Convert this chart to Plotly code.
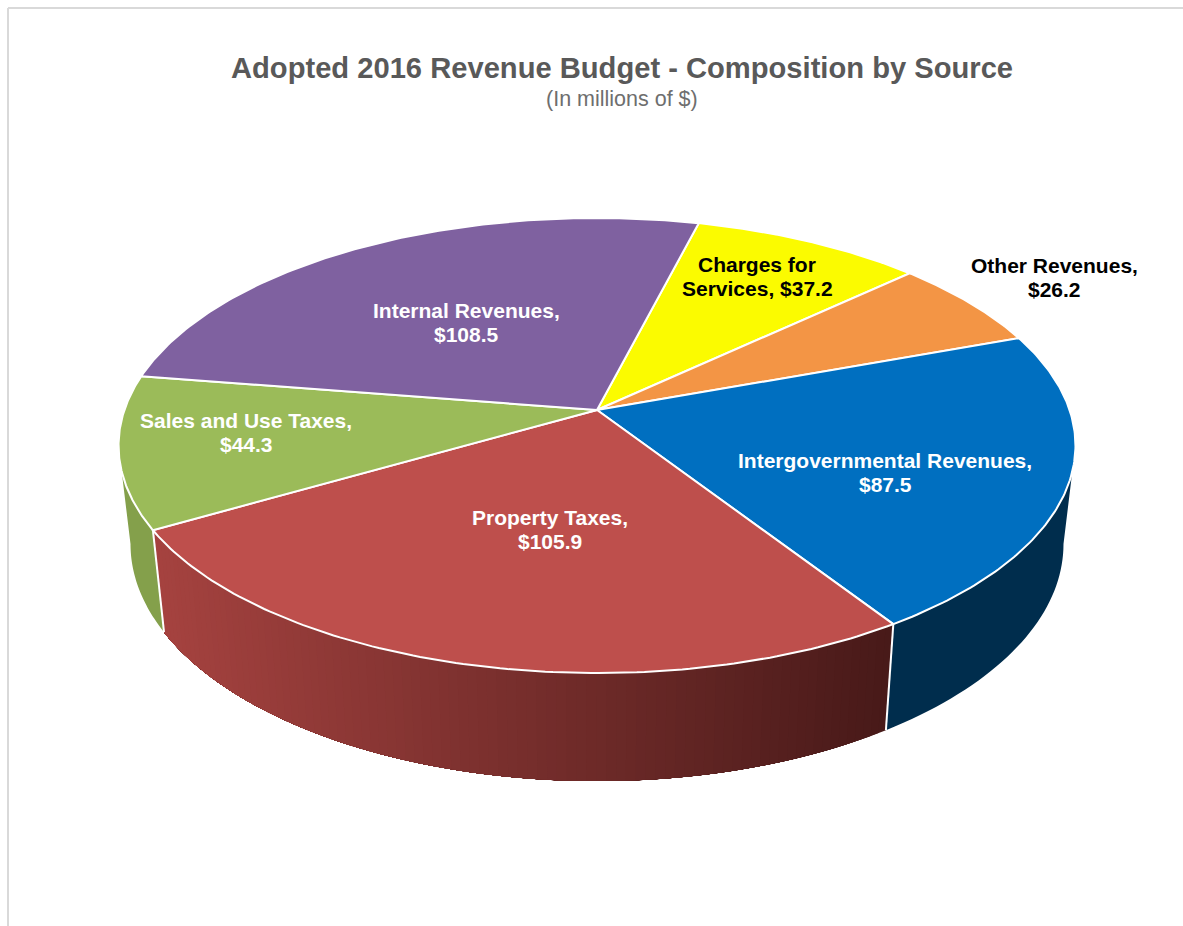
import numpy as np
import plotly.graph_objects as go

# values, clockwise from the yellow slice
sources = ["Charges for<br>Services", "Other Revenues", "Intergovernmental Revenues",
           "Property Taxes", "Sales and Use Taxes", "Internal Revenues"]
amounts = [37.2, 26.2, 87.5, 105.9, 44.3, 108.5]
label_x = [757, 1054, 885, 550, 246, 466]
label_y = [276, 277, 472, 529, 432, 322]
label_colors = ["black", "black", "white", "white", "white", "white"]
top_colors = ["#FBFB00", "#F39545", "#006FC0", "#BE4F4C", "#9BBB59", "#7F61A0"]
side_colors = ["#FBFB00", "#F39545", "#002D4D", None, "#84A04B", "#7F61A0"]
red_side_left = np.array([166, 67, 64])
red_side_right = np.array([72, 26, 25])

# pie geometry: a tilted disc seen in perspective
CX, CY = 597, 410
F, G, K = 472.6, 222, 0.156
START_ANGLE = 14.35
DEPTH, SCALE_X, SCALE_Y = 97, 0.975, 1.042
RIGHT_EDGE, LEFT_EDGE = 99, 261
LINE_GAP = 24


def top_point(theta):
    t = np.radians(theta)
    x, y = np.sin(t), -np.cos(t)
    den = 1 - K * y
    return CX + F * x / den, CY + G * y / den


def bottom_point(theta):
    x, y = top_point(theta)
    return CX + SCALE_X * (x - CX), CY + DEPTH + SCALE_Y * (y - CY)


def side_strip(a, b, color, name):
    thetas = np.linspace(a, b, 40)
    tx, ty = top_point(thetas)
    bx, by = bottom_point(thetas)
    return go.Scatter(x=np.r_[tx, bx[::-1]], y=np.r_[ty, by[::-1]], fill="toself",
                      fillcolor=color, mode="none",
                      name=name, hoverinfo="skip", showlegend=False)


spans = np.array(amounts) / sum(amounts) * 360
starts = START_ANGLE + np.r_[0, np.cumsum(spans)[:-1]]
ends = starts + spans

fig = go.Figure()

# sides of the disc
for i, name in enumerate(sources):
    a, b = max(starts[i], RIGHT_EDGE), min(ends[i], LEFT_EDGE)
    if a >= b:
        continue
    if side_colors[i] is not None:
        fig.add_trace(side_strip(a, b, side_colors[i], name))
    else:
        # the red side fades from left to right, strips overlap to hide the seams
        edges = np.linspace(a, b, 91)
        x_left, x_right = bottom_point(b)[0], bottom_point(a)[0]
        for e0, e1 in zip(edges[:-1], edges[1:]):
            pos = (bottom_point((e0 + e1) / 2)[0] - x_left) / (x_right - x_left)
            rgb = red_side_left + (red_side_right - red_side_left) * pos
            color = "rgb(%d,%d,%d)" % tuple(rgb)
            fig.add_trace(side_strip(e0, b, color, name))

# white seams on the side
for i in range(len(sources)):
    if RIGHT_EDGE < starts[i] < LEFT_EDGE:
        tx, ty = top_point(starts[i])
        bx, by = bottom_point(starts[i])
        fig.add_trace(go.Scatter(x=[tx, bx], y=[ty, by], mode="lines",
                                 line=dict(color="white", width=2),
                                 hoverinfo="skip", showlegend=False))

# top face
for i, name in enumerate(sources):
    thetas = np.linspace(starts[i], ends[i], 120)
    tx, ty = top_point(thetas)
    fig.add_trace(go.Scatter(x=np.r_[CX, tx, CX], y=np.r_[CY, ty, CY], fill="toself",
                             fillcolor=top_colors[i], mode="lines",
                             line=dict(color="white", width=2), name=name,
                             hoverinfo="skip", showlegend=False))

# slice labels, one annotation per line to keep the tight line spacing
for i, name in enumerate(sources):
    sep = ", " if "<br>" in name else ",<br>"
    lines = ("%s%s$%.1f" % (name, sep, amounts[i])).split("<br>")
    for n, line in enumerate(lines):
        fig.add_annotation(x=label_x[i], y=label_y[i] + (n - 0.5) * LINE_GAP, text="<b>%s</b>" % line,
                           showarrow=False,
                           font=dict(family="Liberation Sans", size=21, color=label_colors[i]))

fig.add_annotation(x=622, y=68, text="<b>Adopted 2016 Revenue Budget - Composition by Source</b>",
                   showarrow=False, font=dict(family="Liberation Sans", size=29.15, color="#595959"))
fig.add_annotation(x=622, y=99, text="(In millions of $)", showarrow=False,
                   font=dict(family="Liberation Sans", size=21.5, color="#6E6E6E"))

# chart frame, only top and left show
fig.add_shape(type="line", x0=8, x1=1183, y0=8, y1=8, line=dict(color="#D9D9D9", width=2))
fig.add_shape(type="line", x0=8, x1=8, y0=8, y1=926, line=dict(color="#D9D9D9", width=2))

fig.update_layout(width=1183, height=926, margin=dict(l=0, r=0, t=0, b=0),
                  paper_bgcolor="white", plot_bgcolor="white", showlegend=False,
                  xaxis=dict(range=[0, 1183], visible=False, fixedrange=True),
                  yaxis=dict(range=[926, 0], visible=False, fixedrange=True))

fig.write_html("out.html", config=dict(displayModeBar=False),
               post_script="document.body.style.margin='0';document.body.style.overflow='hidden';")
